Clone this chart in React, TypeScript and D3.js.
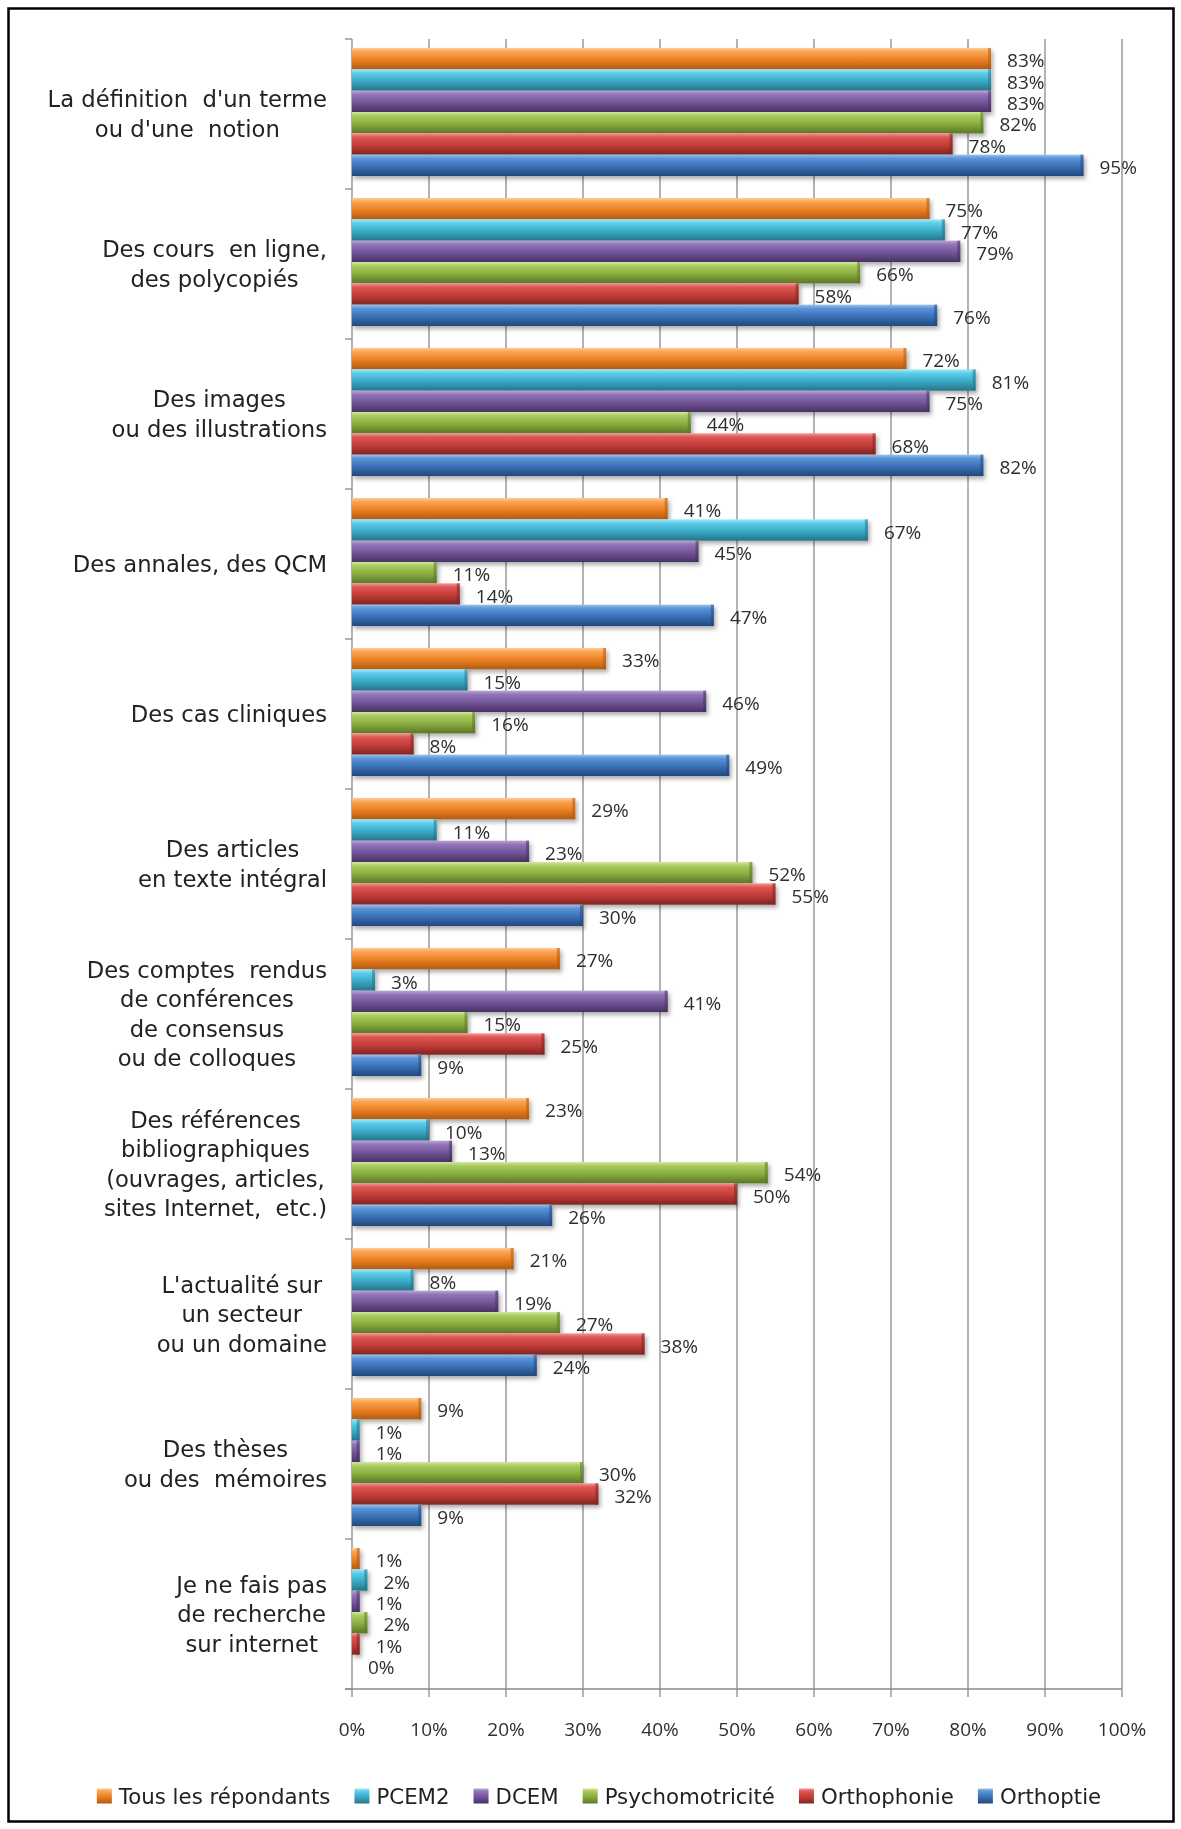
import React from 'react';
import * as d3 from 'd3';

const categories = [
  'definition', 'cours', 'images', 'annales', 'cas', 'articles',
  'comptes', 'references', 'actualite', 'theses', 'aucune',
];
const categoryLabels = [
  ["La définition  d'un terme", "ou d'une  notion"],
  ['Des cours  en ligne,', 'des polycopiés'],
  ['Des images', 'ou des illustrations'],
  ['Des annales, des QCM'],
  ['Des cas cliniques'],
  ['Des articles', 'en texte intégral'],
  ['Des comptes  rendus', 'de conférences', 'de consensus', 'ou de colloques'],
  ['Des références', 'bibliographiques', '(ouvrages, articles,', 'sites Internet,  etc.)'],
  ["L'actualité sur", 'un secteur', 'ou un domaine'],
  ['Des thèses', 'ou des  mémoires'],
  ['Je ne fais pas', 'de recherche', 'sur internet'],
];
const seriesNames = ['Tous les répondants', 'PCEM2', 'DCEM', 'Psychomotricité', 'Orthophonie', 'Orthoptie'];
const tous = [83, 75, 72, 41, 33, 29, 27, 23, 21, 9, 1];
const pcem2 = [83, 77, 81, 67, 15, 11, 3, 10, 8, 1, 2];
const dcem = [83, 79, 75, 45, 46, 23, 41, 13, 19, 1, 1];
const psychomotricite = [82, 66, 44, 11, 16, 52, 15, 54, 27, 30, 2];
const orthophonie = [78, 58, 68, 14, 8, 55, 25, 50, 38, 32, 1];
const orthoptie = [95, 76, 82, 47, 49, 30, 9, 26, 24, 9, 0];
const seriesValues = [tous, pcem2, dcem, psychomotricite, orthophonie, orthoptie];
const xTicks = [0, 10, 20, 30, 40, 50, 60, 70, 80, 90, 100];

// gradient colours per series: [highlight, light, base, dark]
const seriesColors = [
  ['#FCCB96', '#F8A453', '#EC7F22', '#B05B12'],
  ['#A8E8F7', '#5CCDE8', '#3AABC8', '#267488'],
  ['#B9A5D3', '#9275B8', '#735599', '#473262'],
  ['#D3E8A2', '#A9CA5E', '#8AAD40', '#5A7725'],
  ['#F39A97', '#DE5552', '#C33D39', '#822421'],
  ['#9DC0EA', '#5A93D6', '#3A71B7', '#23497E'],
];

const LABEL_FAMILY = 'DejaVu Sans';
const NUM_FAMILY = 'Open Sans';
let measureCtx: CanvasRenderingContext2D | null = null;
function measure(text: string, size: number, family: string): number {
  if (!measureCtx) measureCtx = document.createElement('canvas').getContext('2d');
  if (!measureCtx) return text.length * size * 0.6;
  measureCtx.font = `${size}px "${family}"`;
  return measureCtx.measureText(text).width;
}

export default function App() {
  const W = 1181;
  const H = 1829;
  const plotTop = 39;
  const plotBottom = 1689;
  const x = d3.scaleLinear().domain([0, 100]).range([352, 1122]);
  const y = d3.scaleBand<string>().domain(categories).range([plotTop, plotBottom]).padding(0);
  const ys = d3.scaleBand<string>().domain(seriesNames).range([9, 137]).padding(0);
  const catFont = 22.7;
  const lineH = 29.5;
  const labelRight = 327;
  const valFont = 19;

  // legend layout
  const legFont = 21.3;
  const markerSize = 15;
  const markerGap = 7;
  const itemGap = 24;
  const itemWidths = seriesNames.map((s) => markerSize + markerGap + measure(s, legFont, LABEL_FAMILY));
  const legTotal = d3.sum(itemWidths) + itemGap * (seriesNames.length - 1);
  const legStart = 599 - legTotal / 2;
  const legX: number[] = [];
  let acc = legStart;
  itemWidths.forEach((w) => {
    legX.push(acc);
    acc += w + itemGap;
  });
  const legY = 1796;

  return (
    <svg
      width={W}
      height={H}
      style={{ position: 'absolute', left: 0, top: 0, background: '#fff' }}
      fontFamily={`"${NUM_FAMILY}", sans-serif`}
    >
      <defs>
        {seriesColors.map((c, i) => (
          <linearGradient key={i} id={`grad${i}`} x1="0" y1="0" x2="0" y2="1">
            <stop offset="0" stopColor={c[0]} />
            <stop offset="0.18" stopColor={c[1]} />
            <stop offset="0.55" stopColor={c[2]} />
            <stop offset="1" stopColor={c[3]} />
          </linearGradient>
        ))}
        <filter id="shadow" x="-5%" y="-30%" width="115%" height="180%">
          <feDropShadow dx="2" dy="3" stdDeviation="2" floodColor="#000" floodOpacity="0.32" />
        </filter>
      </defs>
      <rect x={0} y={0} width={W} height={H} fill="#fff" />
      <rect x={8.5} y={8.5} width={1165} height={1813} fill="none" stroke="#000" strokeWidth={2.5} />

      {/* gridlines */}
      {xTicks.map((t) => (
        <line key={`g${t}`} x1={x(t)} x2={x(t)} y1={plotTop} y2={plotBottom + 8} stroke="#8a8a8a" strokeWidth={1.3} />
      ))}
      {/* x axis */}
      <line x1={x(0) - 7} x2={x(100)} y1={plotBottom} y2={plotBottom} stroke="#8a8a8a" strokeWidth={1.5} />
      {/* category axis ticks */}
      {categories.map((c) => (
        <line key={`t${c}`} x1={x(0) - 7} x2={x(0)} y1={y(c)!} y2={y(c)!} stroke="#8a8a8a" strokeWidth={1.3} />
      ))}
      <line x1={x(0) - 7} x2={x(0)} y1={plotBottom} y2={plotBottom} stroke="#8a8a8a" strokeWidth={1.3} />

      {/* bars */}
      <g filter="url(#shadow)">
        {categories.map((c, ci) =>
          seriesNames.map((s, si) => {
            const v = seriesValues[si][ci];
            if (v <= 0) return null;
            const by = y(c)! + ys(s)!;
            const bh = ys.bandwidth();
            const x0 = x(0);
            const x1 = x(v);
            return (
              <g key={`${c}-${s}`}>
                <rect x={x0} y={by} width={x1 - x0} height={bh} fill={`url(#grad${si})`} />
                <rect x={Math.max(x0, x1 - 3)} y={by} width={Math.min(3, x1 - x0)} height={bh} fill={seriesColors[si][3]} opacity={0.55} />
              </g>
            );
          })
        )}
      </g>

      {/* data labels */}
      {categories.map((c, ci) =>
        seriesNames.map((s, si) => {
          const v = seriesValues[si][ci];
          const by = y(c)! + ys(s)! + ys.bandwidth() / 2;
          return (
            <text
              key={`l${c}-${s}`}
              x={x(v) + 16}
              y={by + 1.5}
              fontSize={valFont}
              fill="#2e2e2e"
              dominantBaseline="central"
            >
              {`${v}%`}
            </text>
          );
        })
      )}

      {/* category labels */}
      {categories.map((c, ci) => {
        const lines = categoryLabels[ci];
        const maxW = d3.max(lines, (l) => measure(l, catFont, LABEL_FAMILY)) || 0;
        const cx = labelRight - maxW / 2;
        const cy = y(c)! + y.bandwidth() / 2;
        const startY = cy - ((lines.length - 1) * lineH) / 2;
        return (
          <text
            key={`c${c}`}
            fontSize={catFont}
            fontFamily={`"${LABEL_FAMILY}", sans-serif`}
            fill="#222"
            textAnchor="middle"
            style={{ whiteSpace: 'pre' }}
          >
            {lines.map((l, li) => (
              <tspan key={li} x={cx} y={startY + li * lineH} dominantBaseline="central">
                {l}
              </tspan>
            ))}
          </text>
        );
      })}

      {/* x tick labels */}
      {xTicks.map((t) => (
        <text key={`xt${t}`} x={x(t)} y={1729} fontSize={valFont} fill="#2e2e2e" textAnchor="middle" dominantBaseline="central">
          {`${t}%`}
        </text>
      ))}

      {/* legend */}
      {seriesNames.map((s, i) => (
        <g key={`leg${s}`}>
          <rect x={legX[i]} y={legY - markerSize / 2} width={markerSize} height={markerSize} fill={`url(#grad${i})`} />
          <text
            x={legX[i] + markerSize + markerGap}
            y={legY}
            fontSize={legFont}
            fontFamily={`"${LABEL_FAMILY}", sans-serif`}
            fill="#222"
            dominantBaseline="central"
          >
            {s}
          </text>
        </g>
      ))}
    </svg>
  );
}
